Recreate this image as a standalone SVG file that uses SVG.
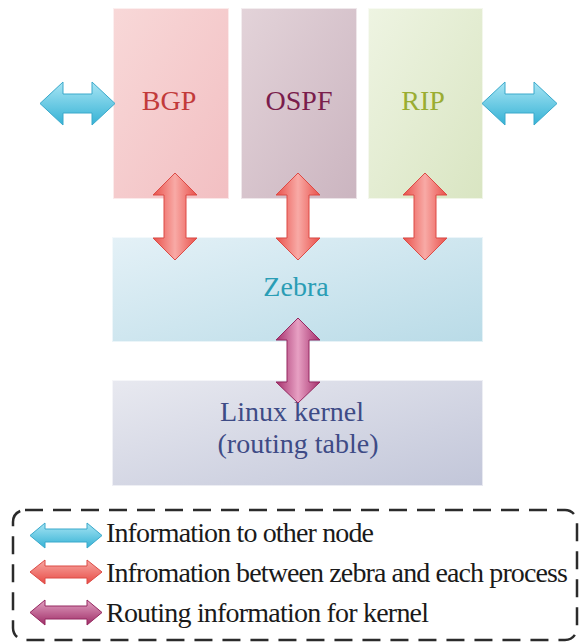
<svg xmlns="http://www.w3.org/2000/svg" width="580" height="643" viewBox="0 0 580 643">
  <defs>
    <linearGradient id="gBgp" x1="0" y1="0" x2="1" y2="1">
      <stop offset="0" stop-color="#f8d8d8"/>
      <stop offset="1" stop-color="#f2bfc2"/>
    </linearGradient>
    <linearGradient id="gOspf" x1="0" y1="0" x2="1" y2="1">
      <stop offset="0" stop-color="#e3d3d9"/>
      <stop offset="1" stop-color="#cbb5c0"/>
    </linearGradient>
    <linearGradient id="gRip" x1="0" y1="0" x2="1" y2="1">
      <stop offset="0" stop-color="#eef4e2"/>
      <stop offset="1" stop-color="#d9e5c2"/>
    </linearGradient>
    <linearGradient id="gZebra" x1="0" y1="0" x2="1" y2="1">
      <stop offset="0" stop-color="#e4f1f7"/>
      <stop offset="1" stop-color="#b9dbe7"/>
    </linearGradient>
    <linearGradient id="gKernel" x1="0" y1="0" x2="1" y2="1">
      <stop offset="0" stop-color="#e8e9f0"/>
      <stop offset="1" stop-color="#c2c6d9"/>
    </linearGradient>
    <!-- arrow shading: darker rims, light core -->
    <linearGradient id="aRedV" x1="0" y1="0" x2="1" y2="0">
      <stop offset="0" stop-color="#e9504a"/>
      <stop offset="0.5" stop-color="#f8aaa6"/>
      <stop offset="1" stop-color="#e9504a"/>
    </linearGradient>
    <linearGradient id="aPurV" x1="0" y1="0" x2="1" y2="0">
      <stop offset="0" stop-color="#a52f6c"/>
      <stop offset="0.5" stop-color="#e7a0c3"/>
      <stop offset="1" stop-color="#a52f6c"/>
    </linearGradient>
    <linearGradient id="aCyanH" x1="0" y1="0" x2="0" y2="1">
      <stop offset="0" stop-color="#a8e5f4"/>
      <stop offset="1" stop-color="#35b2d5"/>
    </linearGradient>
    <linearGradient id="aRedH" x1="0" y1="0" x2="0" y2="1">
      <stop offset="0" stop-color="#f7a9a4"/>
      <stop offset="1" stop-color="#e84a44"/>
    </linearGradient>
    <linearGradient id="aPurH" x1="0" y1="0" x2="0" y2="1">
      <stop offset="0" stop-color="#e3a2c3"/>
      <stop offset="1" stop-color="#9e2c66"/>
    </linearGradient>
  </defs>
  <style>
    .box { stroke: #ffffff; stroke-opacity: 0.6; stroke-width: 2; }
    .lbl { text-anchor: middle; }
    .leg { fill: #1a1a1a; }
    .red { fill: url(#aRedV); stroke: #dc4a45; stroke-width: 1; }
    .pur { fill: url(#aPurV); stroke: #952860; stroke-width: 1; }
    .cyan { fill: url(#aCyanH); stroke: #3aa9cb; stroke-width: 1; }
  </style>
  <rect width="580" height="643" fill="#ffffff"/>

  <g font-family="Liberation Serif" font-size="28">
    <g id="bgp">
      <rect class="box" x="113" y="8" width="116" height="191" fill="url(#gBgp)"/>
      <text class="lbl" x="169" y="110" fill="#c23a3a">BGP</text>
    </g>
    <g id="ospf">
      <rect class="box" x="241" y="8" width="116" height="191" fill="url(#gOspf)"/>
      <text class="lbl" x="299" y="110" fill="#7a1d4c">OSPF</text>
    </g>
    <g id="rip">
      <rect class="box" x="368" y="8" width="115" height="191" fill="url(#gRip)"/>
      <text class="lbl" x="423" y="110" fill="#9aad32">RIP</text>
    </g>
    <g id="zebra">
      <rect class="box" x="112" y="237" width="371" height="105" fill="url(#gZebra)"/>
      <text class="lbl" x="296" y="296" fill="#2a9db5">Zebra</text>
    </g>
    <g id="kernel">
      <rect class="box" x="112" y="380" width="371" height="106" fill="url(#gKernel)"/>
      <text class="lbl" x="292" y="421" fill="#3e4b86">Linux kernel</text>
      <text class="lbl" x="298" y="453" fill="#3e4b86">(routing table)</text>
    </g>
  </g>

  <g id="connectors">
    <!-- external links -->
    <path class="cyan" d="M40,103.5 L63,82 L63,94 L92,94 L92,82 L115,103.5 L92,125 L92,113 L63,113 L63,125 Z"/>
    <path class="cyan" d="M482,103.5 L505,82 L505,94 L534,94 L534,82 L557,103.5 L534,125 L534,113 L505,113 L505,125 Z"/>
    <!-- process to zebra -->
    <path class="red" d="M175,173 L197,195 L186,195 L186,238 L197,238 L175,260 L153,238 L164,238 L164,195 L153,195 Z"/>
    <path class="red" d="M298,173 L320,195 L309,195 L309,238 L320,238 L298,260 L276,238 L287,238 L287,195 L276,195 Z"/>
    <path class="red" d="M425,173 L447,195 L436,195 L436,238 L447,238 L425,260 L403,238 L414,238 L414,195 L403,195 Z"/>
    <!-- zebra to kernel -->
    <path class="pur" d="M298,318 L320,340 L309,340 L309,382 L320,382 L298,403 L276,382 L287,382 L287,340 L276,340 Z"/>
  </g>

  <g id="legend" font-family="Liberation Serif" font-size="28">
    <rect x="13" y="510" width="564" height="130" rx="12" fill="none" stroke="#2b2b2b" stroke-width="2.5" stroke-dasharray="18 10"/>
    <path d="M30,535.5 L45,523 L45,529 L87,529 L87,523 L102,535.5 L87,548 L87,542 L45,542 L45,548 Z" fill="url(#aCyanH)" stroke="#3aa9cb"/>
    <path d="M30,572 L45,560 L45,566 L87,566 L87,560 L102,572 L87,584 L87,578 L45,578 L45,584 Z" fill="url(#aRedH)" stroke="#dc4a45"/>
    <path d="M30,612.5 L45,600 L45,606 L87,606 L87,600 L102,612.5 L87,625 L87,619 L45,619 L45,625 Z" fill="url(#aPurH)" stroke="#952860"/>
    <text class="leg" x="106" y="542" textLength="268" lengthAdjust="spacing">Information to other node</text>
    <text class="leg" x="106" y="582" textLength="462" lengthAdjust="spacing">Infromation between zebra and each process</text>
    <text class="leg" x="106" y="622" textLength="323" lengthAdjust="spacing">Routing information for kernel</text>
  </g>
</svg>
